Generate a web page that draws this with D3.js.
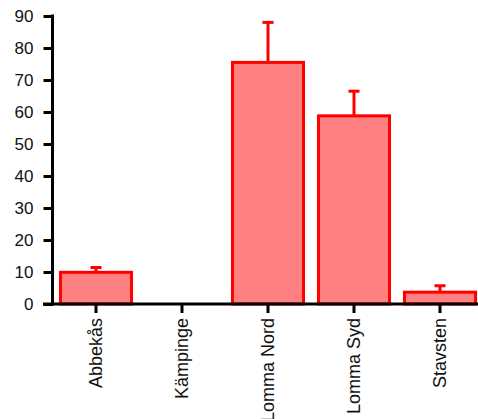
<!DOCTYPE html>
<html>
<head>
<meta charset="utf-8">
<script src="https://cdn.jsdelivr.net/npm/d3@7"></script>
<style>
  html, body { margin: 0; padding: 0; background: #fff; }
  svg { display: block; font-family: "Liberation Sans", Arial, Helvetica, sans-serif; }
</style>
</head>
<body>
<svg id="chart" width="478" height="419"></svg>
<script>
// Sampling sites and mean counts with upper error (SEM)
const sites = ["Abbekås", "Kämpinge", "Lomma Nord", "Lomma Syd", "Stavsten"];
const means = [9.9, 0, 75.5, 58.8, 3.7];
const errors = [1.5, 0, 12.5, 7.7, 2.0];
const yTicks = [0, 10, 20, 30, 40, 50, 60, 70, 80, 90];

const svg = d3.select("#chart");
const axisX = 52.5, baseY = 304;

const y = d3.scaleLinear().domain([0, 90]).range([baseY, 16]);
const x = d3.scaleBand().domain(sites).range([53, 483]).paddingInner(0.174).paddingOuter(0.087);

const data = sites.map((s, i) => ({ site: s, mean: means[i], err: errors[i] }));

// Bars
svg.append("g").selectAll("rect").data(data.filter(d => d.mean > 0)).join("rect")
  .attr("x", d => x(d.site))
  .attr("y", d => y(d.mean))
  .attr("width", x.bandwidth())
  .attr("height", d => baseY - y(d.mean))
  .attr("fill", "#ff8080")
  .attr("stroke", "#ff0000")
  .attr("stroke-width", 3);

// Error bars (upper only)
const eb = svg.append("g").attr("stroke", "#ff0000").attr("stroke-width", 3)
  .selectAll("g").data(data.filter(d => d.err > 0)).join("g");
eb.append("line")
  .attr("x1", d => x(d.site) + x.bandwidth() / 2)
  .attr("x2", d => x(d.site) + x.bandwidth() / 2)
  .attr("y1", d => y(d.mean))
  .attr("y2", d => y(d.mean + d.err));
eb.append("line")
  .attr("x1", d => x(d.site) + x.bandwidth() / 2 - 5.5)
  .attr("x2", d => x(d.site) + x.bandwidth() / 2 + 5.5)
  .attr("y1", d => y(d.mean + d.err))
  .attr("y2", d => y(d.mean + d.err));

// Y axis
const yAxis = svg.append("g").attr("transform", `translate(${axisX},0)`)
  .call(d3.axisLeft(y).tickValues(yTicks).tickSize(9).tickPadding(10));
yAxis.select(".domain").remove();
yAxis.selectAll(".tick line").attr("stroke", "#000").attr("stroke-width", 3);
yAxis.selectAll(".tick text").attr("fill", "#111").style("font-size", "17px")
  .style("font-family", "'Liberation Sans', Arial, sans-serif");
yAxis.append("line").attr("x1", 0).attr("x2", 0)
  .attr("y1", y(90) - 1.5).attr("y2", baseY + 1.5)
  .attr("stroke", "#000").attr("stroke-width", 3);

// X axis
const xAxis = svg.append("g").attr("transform", `translate(0,${baseY})`)
  .call(d3.axisBottom(x).tickSize(9).tickPadding(0));
xAxis.select(".domain").remove();
xAxis.append("line").attr("x1", 43).attr("x2", 478).attr("y1", 0).attr("y2", 0)
  .attr("stroke", "#000").attr("stroke-width", 3);
xAxis.selectAll(".tick line").attr("stroke", "#000").attr("stroke-width", 3);
xAxis.selectAll(".tick text")
  .attr("fill", "#111")
  .style("font-size", "18px")
  .style("font-family", "'Liberation Sans', Arial, sans-serif")
  .attr("text-anchor", "end")
  .attr("x", 0)
  .attr("y", 0)
  .attr("dy", "0.35em")
  .attr("transform", "translate(0,14) rotate(-90)");
</script>
</body>
</html>
